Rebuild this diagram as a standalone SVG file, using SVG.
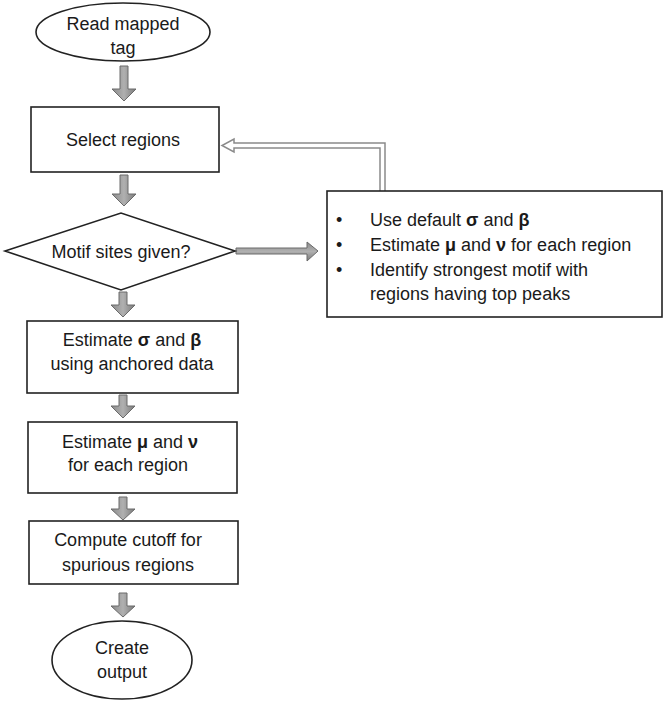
<svg xmlns="http://www.w3.org/2000/svg" width="663" height="701" viewBox="0 0 663 701">
<defs>
<linearGradient id="g" x1="0" y1="0" x2="1" y2="0">
<stop offset="0" stop-color="#8a8a8a"/><stop offset="0.5" stop-color="#b0b0b0"/><stop offset="1" stop-color="#7a7a7a"/>
</linearGradient>
<linearGradient id="gh" x1="0" y1="0" x2="0" y2="1">
<stop offset="0" stop-color="#8a8a8a"/><stop offset="0.5" stop-color="#b0b0b0"/><stop offset="1" stop-color="#7a7a7a"/>
</linearGradient>
<style>
.box{fill:#fff;stroke:#222;stroke-width:1.6}
.t{font-family:"Liberation Sans",Arial,sans-serif;font-size:18px;fill:#1a1a1a;text-anchor:middle}
.tl{font-family:"Liberation Sans",Arial,sans-serif;font-size:18px;fill:#1a1a1a}
.b{font-weight:bold}
.arr{fill:url(#g);stroke:#6a6a6a;stroke-width:1}
.arrh{fill:url(#gh);stroke:#6a6a6a;stroke-width:1}
.fb{fill:#fff;stroke:#8a8a8a;stroke-width:1.5}
</style>
</defs>
<g id="connectors">
<path class="arr" d="M120,66 L128,66 L128,89 L136,89 L124,101 L112,89 L120,89 Z"/>
<path class="arr" d="M120,175 L128,175 L128,194 L136,194 L124,206 L112,194 L120,194 Z"/>
<path class="arr" d="M119,292 L127,292 L127,305 L135,305 L123,317 L111,305 L119,305 Z"/>
<path class="arr" d="M119,395 L127,395 L127,406 L135,406 L123,418 L111,406 L119,406 Z"/>
<path class="arr" d="M119,497 L127,497 L127,509 L135,509 L123,520 L111,509 L119,509 Z"/>
<path class="arr" d="M119,593 L127,593 L127,606 L135,606 L123,617 L111,606 L119,606 Z"/>
<path class="arrh" d="M236,248 L307,248 L307,242 L318,251 L307,261 L307,254 L236,254 Z"/>
<path class="fb" d="M380,191 L380,148 L234,148 L234,152 L222,145.5 L234,139 L234,143 L385,143 L385,191"/>
</g>
<g id="n-read">
<ellipse class="box" cx="123" cy="32" rx="87" ry="29"/>
<text class="t" x="123" y="30">Read mapped</text>
<text class="t" x="123" y="54">tag</text>
</g>
<g id="n-select">
<rect class="box" x="31" y="107" width="188" height="65"/>
<text class="t" x="123" y="146">Select regions</text>
</g>
<g id="n-motif">
<polygon class="box" points="5,251 121,213 235,251 121,290"/>
<text class="t" x="121" y="258">Motif sites given?</text>
</g>
<g id="n-default">
<rect class="box" x="327" y="191" width="335" height="126"/>
<text class="tl" x="336" y="226">•</text>
<text class="tl" x="336" y="251">•</text>
<text class="tl" x="336" y="276">•</text>
<text class="tl" x="370" y="226">Use default <tspan class="b">σ</tspan> and <tspan class="b">β</tspan></text>
<text class="tl" x="370" y="251">Estimate <tspan class="b">μ</tspan> and <tspan class="b">ν</tspan> for each region</text>
<text class="tl" x="370" y="276">Identify strongest motif with</text>
<text class="tl" x="370" y="300">regions having top peaks</text>
</g>
<g id="n-sigma">
<rect class="box" x="27" y="321" width="211" height="72"/>
<text class="t" x="132" y="346">Estimate <tspan class="b">σ</tspan> and <tspan class="b">β</tspan></text>
<text class="t" x="132" y="370">using anchored data</text>
</g>
<g id="n-mu">
<rect class="box" x="28" y="422" width="209" height="71"/>
<text class="t" x="130" y="448">Estimate <tspan class="b">μ</tspan> and <tspan class="b">ν</tspan></text>
<text class="t" x="128" y="471">for each region</text>
</g>
<g id="n-cutoff">
<rect class="box" x="29" y="521" width="209" height="63"/>
<text class="t" x="128" y="546">Compute cutoff for</text>
<text class="t" x="128" y="571">spurious regions</text>
</g>
<g id="n-output">
<ellipse class="box" cx="122" cy="660" rx="70" ry="39"/>
<text class="t" x="122" y="654">Create</text>
<text class="t" x="122" y="678">output</text>
</g>
</svg>
